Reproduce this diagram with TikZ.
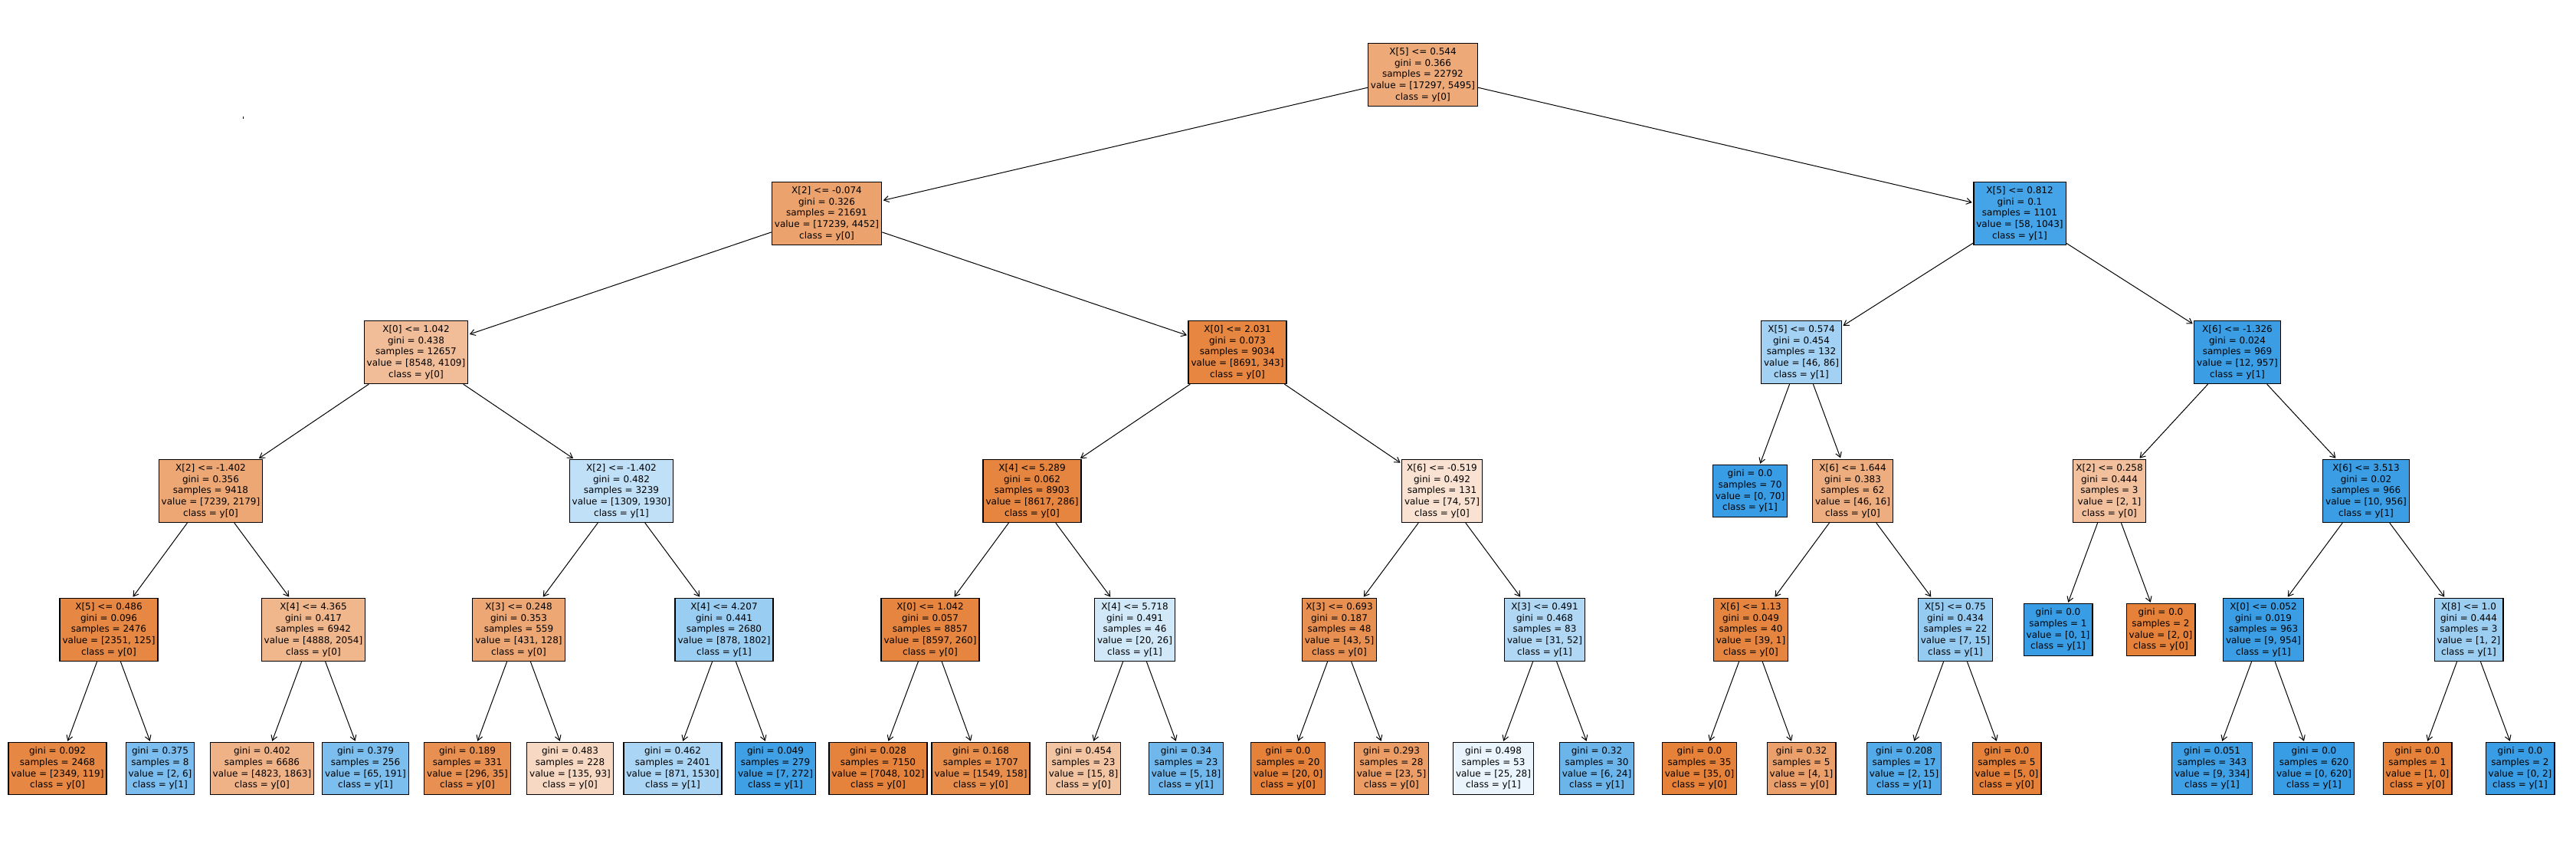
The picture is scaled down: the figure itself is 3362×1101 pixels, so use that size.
\documentclass[tikz,border=0pt]{standalone}
\usepackage{fontspec}
\usepackage{xcolor}
\usetikzlibrary{arrows.meta}

\newfontfamily\arbol{DejaVu Sans}
\definecolor{clase0}{HTML}{E58139}
\definecolor{clase1}{HTML}{399DE5}
\newcommand{\corte}[5]{#1\\gini = #2\\samples = #3\\value = [#4]\\class = y[#5]}
\newcommand{\hoja}[4]{gini = #1\\samples = #2\\value = [#3]\\class = y[#4]}

\begin{document}
\begin{tikzpicture}[x=0.2mm, y=-0.2mm,
    caja/.style={draw=black, line width=0.25mm, fill=#1, align=center, inner xsep=0.7mm,
        minimum height=16.2mm, font={\arbol\fontsize{6.83pt}{8.36pt}\selectfont}},
    cajahoja/.style={caja=#1, minimum height=13.2mm},
    rama/.style={-{Straight Barb[length=1.3mm, width=1.6mm]}, line width=0.2mm, shorten >=0.3mm}]

    \useasboundingbox (0,0) rectangle (3362,1101);

    % punto suelto
    \fill (316.5,151.5) rectangle (317.5,154.5);

    % nivel 0
    \node[caja=clase0!68!white] (r) at (1857,97.5) {\corte{X[5] <= 0.544}{0.366}{22792}{17297, 5495}{0}};

    % nivel 1
    \node[caja=clase0!74!white] (rL) at (1079,278.5) {\corte{X[2] <= -0.074}{0.326}{21691}{17239, 4452}{0}};
    \node[caja=clase1!94!white] (rR) at (2636,278.5) {\corte{X[5] <= 0.812}{0.1}{1101}{58, 1043}{1}};

    % nivel 2
    \node[caja=clase0!52!white] (rLL) at (543,459.5) {\corte{X[0] <= 1.042}{0.438}{12657}{8548, 4109}{0}};
    \node[caja=clase0!96!white] (rLR) at (1615,459.5) {\corte{X[0] <= 2.031}{0.073}{9034}{8691, 343}{0}};
    \node[caja=clase1!47!white] (rRL) at (2351,459.5) {\corte{X[5] <= 0.574}{0.454}{132}{46, 86}{1}};
    \node[caja=clase1!99!white] (rRR) at (2920,459.5) {\corte{X[6] <= -1.326}{0.024}{969}{12, 957}{1}};

    % nivel 3
    \node[caja=clase0!70!white] (rLLL) at (275,640.5) {\corte{X[2] <= -1.402}{0.356}{9418}{7239, 2179}{0}};
    \node[caja=clase1!32!white] (rLLR) at (811,640.5) {\corte{X[2] <= -1.402}{0.482}{3239}{1309, 1930}{1}};
    \node[caja=clase0!97!white] (rLRL) at (1347,640.5) {\corte{X[4] <= 5.289}{0.062}{8903}{8617, 286}{0}};
    \node[caja=clase0!23!white] (rLRR) at (1882,640.5) {\corte{X[6] <= -0.519}{0.492}{131}{74, 57}{0}};
    \node[cajahoja=clase1] (rRLL) at (2284,640.5) {\hoja{0.0}{70}{0, 70}{1}};
    \node[caja=clase0!65!white] (rRLR) at (2418,640.5) {\corte{X[6] <= 1.644}{0.383}{62}{46, 16}{0}};
    \node[caja=clase0!50!white] (rRRL) at (2753,640.5) {\corte{X[2] <= 0.258}{0.444}{3}{2, 1}{0}};
    \node[caja=clase1!99!white] (rRRR) at (3088,640.5) {\corte{X[6] <= 3.513}{0.02}{966}{10, 956}{1}};

    % nivel 4
    \node[caja=clase0!95!white] (rLLLL) at (142,821.5) {\corte{X[5] <= 0.486}{0.096}{2476}{2351, 125}{0}};
    \node[caja=clase0!58!white] (rLLLR) at (409,821.5) {\corte{X[4] <= 4.365}{0.417}{6942}{4888, 2054}{0}};
    \node[caja=clase0!70!white] (rLLRL) at (677,821.5) {\corte{X[3] <= 0.248}{0.353}{559}{431, 128}{0}};
    \node[caja=clase1!51!white] (rLLRR) at (945,821.5) {\corte{X[4] <= 4.207}{0.441}{2680}{878, 1802}{1}};
    \node[caja=clase0!97!white] (rLRLL) at (1214,821.5) {\corte{X[0] <= 1.042}{0.057}{8857}{8597, 260}{0}};
    \node[caja=clase1!23!white] (rLRLR) at (1481,821.5) {\corte{X[4] <= 5.718}{0.491}{46}{20, 26}{1}};
    \node[caja=clase0!88!white] (rLRRL) at (1748,821.5) {\corte{X[3] <= 0.693}{0.187}{48}{43, 5}{0}};
    \node[caja=clase1!40!white] (rLRRR) at (2016,821.5) {\corte{X[3] <= 0.491}{0.468}{83}{31, 52}{1}};
    \node[caja=clase0!97!white] (rRLRL) at (2285,821.5) {\corte{X[6] <= 1.13}{0.049}{40}{39, 1}{0}};
    \node[caja=clase1!53!white] (rRLRR) at (2552,821.5) {\corte{X[5] <= 0.75}{0.434}{22}{7, 15}{1}};
    \node[cajahoja=clase1] (rRRLL) at (2686,821.5) {\hoja{0.0}{1}{0, 1}{1}};
    \node[cajahoja=clase0] (rRRLR) at (2820,821.5) {\hoja{0.0}{2}{2, 0}{0}};
    \node[caja=clase1!99!white] (rRRRL) at (2954,821.5) {\corte{X[0] <= 0.052}{0.019}{963}{9, 954}{1}};
    \node[caja=clase1!50!white] (rRRRR) at (3222,821.5) {\corte{X[8] <= 1.0}{0.444}{3}{1, 2}{1}};

    % nivel 5 (hojas)
    \node[cajahoja=clase0!95!white] (rLLLLL) at (75,1002.5) {\hoja{0.092}{2468}{2349, 119}{0}};
    \node[cajahoja=clase1!67!white] (rLLLLR) at (209,1002.5) {\hoja{0.375}{8}{2, 6}{1}};
    \node[cajahoja=clase0!61!white] (rLLLRL) at (342,1002.5) {\hoja{0.402}{6686}{4823, 1863}{0}};
    \node[cajahoja=clase1!66!white] (rLLLRR) at (477,1002.5) {\hoja{0.379}{256}{65, 191}{1}};
    \node[cajahoja=clase0!88!white] (rLLRLL) at (610,1002.5) {\hoja{0.189}{331}{296, 35}{0}};
    \node[cajahoja=clase0!31!white] (rLLRLR) at (744,1002.5) {\hoja{0.483}{228}{135, 93}{0}};
    \node[cajahoja=clase1!43!white] (rLLRRL) at (878,1002.5) {\hoja{0.462}{2401}{871, 1530}{1}};
    \node[cajahoja=clase1!97!white] (rLLRRR) at (1012,1002.5) {\hoja{0.049}{279}{7, 272}{1}};
    \node[cajahoja=clase0!99!white] (rLRLLL) at (1146,1002.5) {\hoja{0.028}{7150}{7048, 102}{0}};
    \node[cajahoja=clase0!90!white] (rLRLLR) at (1280,1002.5) {\hoja{0.168}{1707}{1549, 158}{0}};
    \node[cajahoja=clase0!47!white] (rLRLRL) at (1414,1002.5) {\hoja{0.454}{23}{15, 8}{0}};
    \node[cajahoja=clase1!72!white] (rLRLRR) at (1548,1002.5) {\hoja{0.34}{23}{5, 18}{1}};
    \node[cajahoja=clase0] (rLRRLL) at (1681,1002.5) {\hoja{0.0}{20}{20, 0}{0}};
    \node[cajahoja=clase0!78!white] (rLRRLR) at (1816,1002.5) {\hoja{0.293}{28}{23, 5}{0}};
    \node[cajahoja=clase1!11!white] (rLRRRL) at (1949,1002.5) {\hoja{0.498}{53}{25, 28}{1}};
    \node[cajahoja=clase1!75!white] (rLRRRR) at (2084,1002.5) {\hoja{0.32}{30}{6, 24}{1}};
    \node[cajahoja=clase0] (rRLRLL) at (2218,1002.5) {\hoja{0.0}{35}{35, 0}{0}};
    \node[cajahoja=clase0!75!white] (rRLRLR) at (2351,1002.5) {\hoja{0.32}{5}{4, 1}{0}};
    \node[cajahoja=clase1!87!white] (rRLRRL) at (2485,1002.5) {\hoja{0.208}{17}{2, 15}{1}};
    \node[cajahoja=clase0] (rRLRRR) at (2619,1002.5) {\hoja{0.0}{5}{5, 0}{0}};
    \node[cajahoja=clase1!97!white] (rRRRLL) at (2887,1002.5) {\hoja{0.051}{343}{9, 334}{1}};
    \node[cajahoja=clase1] (rRRRLR) at (3020,1002.5) {\hoja{0.0}{620}{0, 620}{1}};
    \node[cajahoja=clase0] (rRRRRL) at (3155,1002.5) {\hoja{0.0}{1}{1, 0}{0}};
    \node[cajahoja=clase1] (rRRRRR) at (3289,1002.5) {\hoja{0.0}{2}{0, 2}{1}};

    % ramas
    \draw[rama] (r) -- (rL);
    \draw[rama] (r) -- (rR);

    \draw[rama] (rL) -- (rLL);
    \draw[rama] (rL) -- (rLR);
    \draw[rama] (rR) -- (rRL);
    \draw[rama] (rR) -- (rRR);

    \draw[rama] (rLL) -- (rLLL);
    \draw[rama] (rLL) -- (rLLR);
    \draw[rama] (rLR) -- (rLRL);
    \draw[rama] (rLR) -- (rLRR);
    \draw[rama] (rRL) -- (rRLL);
    \draw[rama] (rRL) -- (rRLR);
    \draw[rama] (rRR) -- (rRRL);
    \draw[rama] (rRR) -- (rRRR);

    \draw[rama] (rLLL) -- (rLLLL);
    \draw[rama] (rLLL) -- (rLLLR);
    \draw[rama] (rLLR) -- (rLLRL);
    \draw[rama] (rLLR) -- (rLLRR);
    \draw[rama] (rLRL) -- (rLRLL);
    \draw[rama] (rLRL) -- (rLRLR);
    \draw[rama] (rLRR) -- (rLRRL);
    \draw[rama] (rLRR) -- (rLRRR);
    \draw[rama] (rRLR) -- (rRLRL);
    \draw[rama] (rRLR) -- (rRLRR);
    \draw[rama] (rRRL) -- (rRRLL);
    \draw[rama] (rRRL) -- (rRRLR);
    \draw[rama] (rRRR) -- (rRRRL);
    \draw[rama] (rRRR) -- (rRRRR);

    \draw[rama] (rLLLL) -- (rLLLLL);
    \draw[rama] (rLLLL) -- (rLLLLR);
    \draw[rama] (rLLLR) -- (rLLLRL);
    \draw[rama] (rLLLR) -- (rLLLRR);
    \draw[rama] (rLLRL) -- (rLLRLL);
    \draw[rama] (rLLRL) -- (rLLRLR);
    \draw[rama] (rLLRR) -- (rLLRRL);
    \draw[rama] (rLLRR) -- (rLLRRR);
    \draw[rama] (rLRLL) -- (rLRLLL);
    \draw[rama] (rLRLL) -- (rLRLLR);
    \draw[rama] (rLRLR) -- (rLRLRL);
    \draw[rama] (rLRLR) -- (rLRLRR);
    \draw[rama] (rLRRL) -- (rLRRLL);
    \draw[rama] (rLRRL) -- (rLRRLR);
    \draw[rama] (rLRRR) -- (rLRRRL);
    \draw[rama] (rLRRR) -- (rLRRRR);
    \draw[rama] (rRLRL) -- (rRLRLL);
    \draw[rama] (rRLRL) -- (rRLRLR);
    \draw[rama] (rRLRR) -- (rRLRRL);
    \draw[rama] (rRLRR) -- (rRLRRR);
    \draw[rama] (rRRRL) -- (rRRRLL);
    \draw[rama] (rRRRL) -- (rRRRLR);
    \draw[rama] (rRRRR) -- (rRRRRL);
    \draw[rama] (rRRRR) -- (rRRRRR);

\end{tikzpicture}
\end{document}
